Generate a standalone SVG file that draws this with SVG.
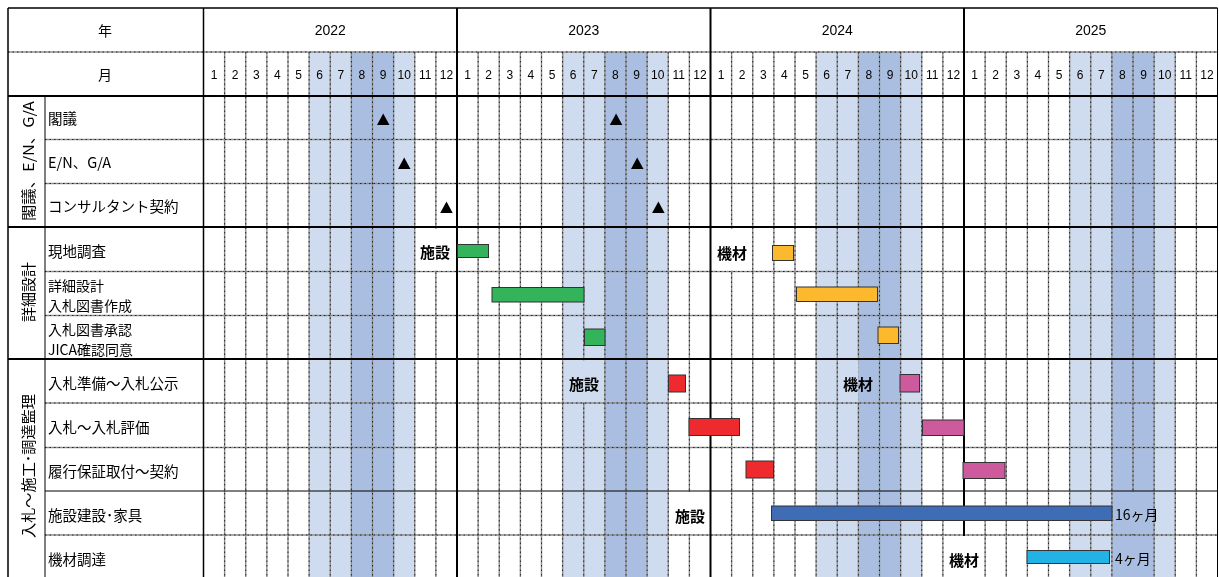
<svg xmlns="http://www.w3.org/2000/svg" xmlns:xlink="http://www.w3.org/1999/xlink" width="1219" height="577" viewBox="0 0 1219 577">
<style>
.lt{fill:#cfdbee}
.dk{fill:#a9bee0}
.gl{stroke:#8e8e8e;stroke-width:1.4;fill:none}
.gd{stroke:#000;stroke-width:1;stroke-dasharray:1.5 3;fill:none;opacity:.75}
.bl{stroke:#000;fill:none}
.mn{font-family:"Liberation Sans",Arial,sans-serif;font-size:12px;text-anchor:middle;fill:#000}
.yr{font-family:"Liberation Sans",Arial,sans-serif;font-size:14px;text-anchor:middle;fill:#000}
.lb{font-family:"Noto Sans CJK JP","Liberation Sans",sans-serif;font-size:14.5px;fill:#000;dominant-baseline:central}
.lb2{font-family:"Noto Sans CJK JP","Liberation Sans",sans-serif;font-size:14px;fill:#000;dominant-baseline:central}
.hd{font-family:"Noto Sans CJK JP","Liberation Sans",sans-serif;font-size:14px;fill:#000;text-anchor:middle;dominant-baseline:central}
.gp{font-family:"Noto Sans CJK JP","Liberation Sans",sans-serif;font-size:14.5px;fill:#000;text-anchor:middle;dominant-baseline:central}
.bd{font-family:"Noto Sans CJK JP","Liberation Sans",sans-serif;font-size:15px;font-weight:bold;fill:#000;dominant-baseline:central}
.du{font-family:"Noto Sans CJK JP","Liberation Sans",sans-serif;font-size:14px;fill:#000;dominant-baseline:central}
.bar{stroke:#333;stroke-width:1}
.tri{fill:#000}
</style>
<defs>
<g id="shade">
<rect class="lt" x="309.125" y="52" width="42.25" height="525"/>
<rect class="dk" x="351.375" y="52" width="42.25" height="525"/>
<rect class="lt" x="393.625" y="52" width="21.125" height="525"/>
</g>
<path id="mlines" d="M224.625 52V577M245.75 52V577M266.875 52V577M288 52V577M309.125 52V577M330.25 52V577M351.375 52V577M372.5 52V577M393.625 52V577M414.75 52V577M435.875 52V577"/>
<g id="mnums">
<text class="mn" x="214.06" y="79">1</text>
<text class="mn" x="235.19" y="79">2</text>
<text class="mn" x="256.31" y="79">3</text>
<text class="mn" x="277.44" y="79">4</text>
<text class="mn" x="298.56" y="79">5</text>
<text class="mn" x="319.69" y="79">6</text>
<text class="mn" x="340.81" y="79">7</text>
<text class="mn" x="361.94" y="79">8</text>
<text class="mn" x="383.06" y="79">9</text>
<text class="mn" x="404.19" y="79">10</text>
<text class="mn" x="425.31" y="79">11</text>
<text class="mn" x="446.44" y="79">12</text>
</g>
</defs>
<rect x="0" y="0" width="1219" height="577" fill="#fff"/>
<g id="shading">
<use xlink:href="#shade"/>
<use xlink:href="#shade" x="253.5"/>
<use xlink:href="#shade" x="507"/>
<use xlink:href="#shade" x="760.5"/>
</g>
<g id="grid">
<g class="gl">
<use xlink:href="#mlines"/>
<use xlink:href="#mlines" x="253.5"/>
<use xlink:href="#mlines" x="507"/>
<use xlink:href="#mlines" x="760.5"/>
<path d="M8 52H1217.5M45 139.5H1217.5M45 183.5H1217.5M45 271.5H1217.5M45 315.5H1217.5M45 403H1217.5M45 447.5H1217.5M45 535H1217.5"/>
</g>
<g class="gd">
<use xlink:href="#mlines"/>
<use xlink:href="#mlines" x="253.5"/>
<use xlink:href="#mlines" x="507"/>
<use xlink:href="#mlines" x="760.5"/>
<path d="M8 52H1217.5M45 139.5H1217.5M45 183.5H1217.5M45 271.5H1217.5M45 315.5H1217.5M45 403H1217.5M45 447.5H1217.5M45 535H1217.5"/>
</g>
<path class="bl" stroke-width="1" d="M45 96V577M45 491H1217.5M1217.5 8V577"/>
<path class="bl" stroke-width="1.5" d="M8 8V577M203.5 8V577M8 8H1217.5"/>
<path class="bl" stroke-width="2" d="M457 8V577M710.5 8V577M964 8V577M8 96H1217.5M8 227H1217.5M8 359H1217.5"/>
</g>
<g id="patches">
<rect x="418" y="228.5" width="37" height="42" fill="#fff"/>
<rect x="716" y="228.5" width="34" height="42" fill="#fff"/>
<rect x="568" y="360.5" width="34" height="41.5" class="lt"/>
<rect x="843" y="360.5" width="15.4" height="41.5" class="lt"/>
<rect x="858.4" y="360.5" width="17" height="41.5" class="dk"/>
<rect x="674" y="492" width="34" height="42" fill="#fff"/>
<rect x="948" y="536" width="33" height="41" fill="#fff"/>
<rect x="1114" y="492" width="38" height="42" class="dk"/>
<rect x="1114" y="536" width="38" height="41" class="dk"/>
</g>
<g id="header">
<text class="hd" x="105" y="30">年</text>
<text class="hd" x="105" y="74">月</text>
<text class="yr" x="330.25" y="35">2022</text>
<text class="yr" x="583.75" y="35">2023</text>
<text class="yr" x="837.25" y="35">2024</text>
<text class="yr" x="1090.75" y="35">2025</text>
<use xlink:href="#mnums"/>
<use xlink:href="#mnums" x="253.5"/>
<use xlink:href="#mnums" x="507"/>
<use xlink:href="#mnums" x="760.5"/>
</g>
<g id="groups">
<text class="gp" transform="translate(27,161) rotate(-90)" textLength="120" lengthAdjust="spacingAndGlyphs">閣議、E/N、G/A</text>
<text class="gp" transform="translate(27,292) rotate(-90)" textLength="60" lengthAdjust="spacingAndGlyphs">詳細設計</text>
<text class="gp" transform="translate(27,466) rotate(-90)" textLength="144" lengthAdjust="spacingAndGlyphs">入札～施工･調達監理</text>
</g>
<g id="labels">
<text class="lb" x="48" y="117.5">閣議</text>
<text class="lb" x="48" y="161.5">E/N、G/A</text>
<text class="lb" x="48" y="205.5">コンサルタント契約</text>
<text class="lb" x="48" y="250">現地調査</text>
<text class="lb2" x="48" y="285">詳細設計</text>
<text class="lb2" x="48" y="305">入札図書作成</text>
<text class="lb2" x="48" y="328.5">入札図書承認</text>
<text class="lb2" x="48" y="349">JICA確認同意</text>
<text class="lb" x="48" y="382">入札準備～入札公示</text>
<text class="lb" x="48" y="426">入札～入札評価</text>
<text class="lb" x="48" y="470">履行保証取付～契約</text>
<text class="lb" x="48" y="514">施設建設･家具</text>
<text class="lb" x="48" y="558">機材調達</text>
</g>
<g id="milestones">
<polygon class="tri" points="377,125 389.5,125 383.2,113.5"/>
<polygon class="tri" points="398,169 410.5,169 404.2,157.5"/>
<polygon class="tri" points="440.2,213 452.7,213 446.5,201.5"/>
<polygon class="tri" points="609.8,125 622.3,125 616.1,113.5"/>
<polygon class="tri" points="631,169 643.5,169 637.2,157.5"/>
<polygon class="tri" points="652.1,213 664.6,213 658.4,201.5"/>
</g>
<g id="bars">
<rect class="bar" x="457.5" y="244.5" width="31" height="13" fill="#33b35a"/>
<rect class="bar" x="492" y="287.5" width="92" height="14.5" fill="#33b35a"/>
<rect class="bar" x="584.5" y="329" width="20.5" height="16.5" fill="#33b35a"/>
<rect class="bar" x="772.5" y="245.5" width="21" height="15" fill="#fdb92e"/>
<rect class="bar" x="796.5" y="287" width="81" height="14.5" fill="#fdb92e"/>
<rect class="bar" x="878" y="327" width="20.5" height="16.5" fill="#fdb92e"/>
<rect class="bar" x="668.5" y="375" width="17" height="17" fill="#ee2a2f"/>
<rect class="bar" x="689" y="418.5" width="50.5" height="17" fill="#ee2a2f"/>
<rect class="bar" x="746" y="461" width="27.5" height="17" fill="#ee2a2f"/>
<rect class="bar" x="900" y="374.5" width="19.5" height="17.5" fill="#cc5a9c"/>
<rect class="bar" x="922.5" y="420" width="41.5" height="15.5" fill="#cc5a9c"/>
<rect class="bar" x="963" y="462.5" width="42" height="16" fill="#cc5a9c"/>
<rect class="bar" x="771.5" y="506" width="340.5" height="14.5" fill="#3e6cb5"/>
<rect class="bar" x="1027" y="550.5" width="82.5" height="13" fill="#22b2e6"/>
</g>
<g id="barlabels">
<text class="bd" x="420" y="251">施設</text>
<text class="bd" x="717" y="252">機材</text>
<text class="bd" x="569" y="383">施設</text>
<text class="bd" x="843" y="383">機材</text>
<text class="bd" x="675" y="515">施設</text>
<text class="bd" x="949" y="559">機材</text>
<text class="du" x="1115" y="514">16ヶ月</text>
<text class="du" x="1115" y="558">4ヶ月</text>
</g>
</svg>
